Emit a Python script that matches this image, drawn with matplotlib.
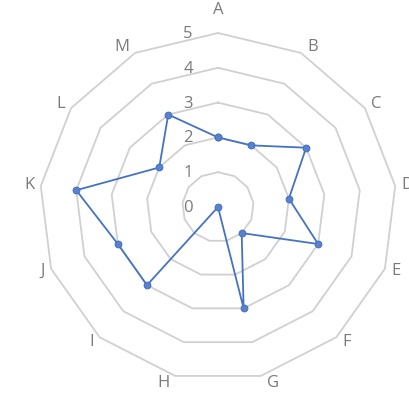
import numpy as np
import matplotlib
matplotlib.use("Agg")
import matplotlib.pyplot as plt

categories = ["A", "B", "C", "D", "E", "F", "G", "H", "I", "J", "K", "L", "M"]
values = [2, 2, 3, 2, 3, 1, 3, 0, 3, 3, 4, 2, 3]
levels = [0, 1, 2, 3, 4, 5]

W, H, DPI = 409, 393, 100
fig = plt.figure(figsize=(W / DPI, H / DPI), dpi=DPI)

# polar axes centred at (218, 207) px from top-left; slightly wider than tall
cx, cy, RX, RY = 218, 207, 178.5, 174
ax = fig.add_axes([(cx - RX) / W, (H - cy - RY) / H, 2 * RX / W, 2 * RY / H],
                  projection="polar")
ax.set_aspect("auto")
ax.set_theta_zero_location("N")
ax.set_theta_direction(-1)
ax.set_ylim(0, levels[-1])
ax.grid(False)
ax.set_xticks([])
ax.set_yticks([])
ax.spines["polar"].set_visible(False)
ax.patch.set_alpha(0)

n = len(categories)
theta = np.arange(n) * 2 * np.pi / n
theta_c = np.append(theta, theta[0])

grid_col = "#d0d0d0"
text_col = "#7a7a7a"
font = "Open Sans"

# polygonal gridlines
for lv in levels[1:]:
    ax.plot(theta_c, [lv] * (n + 1), color=grid_col, lw=1.3, clip_on=False, zorder=1)

# data series
vals_c = values + values[:1]
ax.plot(theta_c, vals_c, color="#4472C4", lw=1.3, marker="o", ms=4.8,
        mfc="#5a82cc", mec="#4472C4", mew=0.8, clip_on=False, zorder=3)

# category labels around the outer ring
for t, lab in zip(theta, categories):
    s, c = np.sin(t), np.cos(t)
    if abs(s) < 0.1:
        ha, dx, dy = "center", 0, 23
    else:
        ha = "left" if s > 0 else "right"
        dx = 6 * np.sign(s)
        dy = 7 * c
    ax.annotate(lab, xy=(t, levels[-1]), xytext=(dx, dy), textcoords="offset pixels",
                ha=ha, va="center", fontsize=12, color=text_col, family=font,
                annotation_clip=False)

# radial value labels along the top spoke
for lv in levels:
    ax.annotate(str(lv), xy=(0, lv), xytext=(-30, -1), textcoords="offset pixels",
                ha="center", va="center", fontsize=12, color=text_col, family=font,
                annotation_clip=False)

fig.savefig("out.png", dpi=DPI)
